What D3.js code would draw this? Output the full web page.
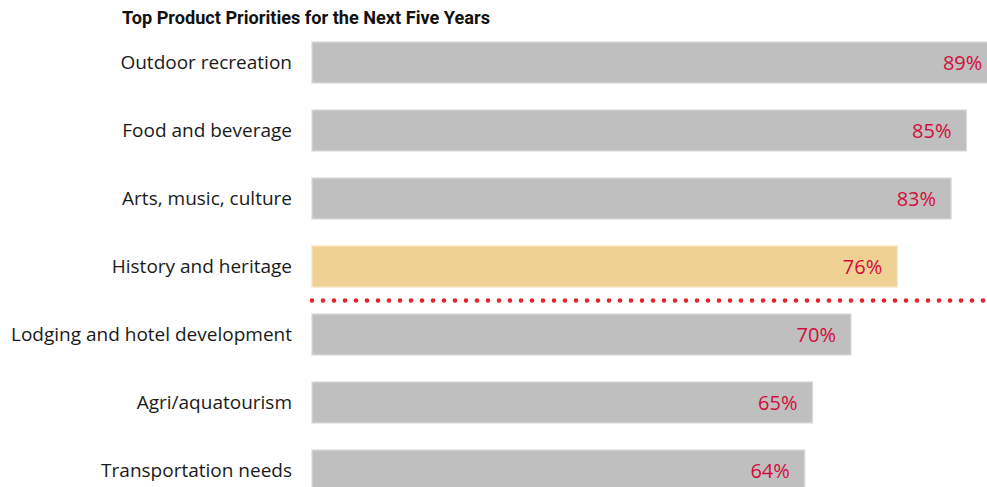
<!DOCTYPE html>
<html>
<head>
<meta charset="utf-8">
<script src="https://cdn.jsdelivr.net/npm/d3@7"></script>
<style>
  html, body { margin: 0; padding: 0; background: #fff; overflow: hidden; }
  svg { display: block; }
</style>
</head>
<body>
<svg id="chart" width="987" height="487"></svg>
<script>
// Survey results: share of respondents naming each product as a priority
const categories = [
  "Outdoor recreation",
  "Food and beverage",
  "Arts, music, culture",
  "History and heritage",
  "Lodging and hotel development",
  "Agri/aquatourism",
  "Transportation needs"
];
const values = [89, 85, 83, 76, 70, 65, 64];
const highlighted = ["History and heritage"];
const title = "Top Product Priorities for the Next Five Years";

const svg = d3.select("#chart");
const W = 987, H = 487;

const x = d3.scaleLinear().domain([0, 100]).range([312, 1082]);
const step = 68, gapRatio = 27 / 68;
const y = d3.scaleBand()
  .domain(categories)
  .range([42, 42 + step * (categories.length - gapRatio)])
  .paddingInner(gapRatio)
  .paddingOuter(0);

const data = categories.map((c, i) => ({ cat: c, val: values[i] }));

// Title
svg.append("text")
  .attr("x", 122).attr("y", 24)
  .attr("font-family", "'Liberation Sans Narrow', 'Arial Narrow', 'Roboto', sans-serif")
  .attr("font-weight", "bold")
  .attr("font-size", 18)
  .attr("textLength", 368)
  .attr("lengthAdjust", "spacingAndGlyphs")
  .attr("fill", "#111")
  .text(title);

// Bars
svg.append("g").selectAll("rect")
  .data(data)
  .join("rect")
  .attr("x", x(0))
  .attr("y", d => y(d.cat))
  .attr("width", d => x(d.val) - x(0))
  .attr("height", y.bandwidth())
  .attr("fill", d => highlighted.includes(d.cat) ? "#F0D194" : "#BFBFBF")
  .attr("stroke", d => highlighted.includes(d.cat) ? "#F7E3BC" : "#DADADA")
  .attr("stroke-width", 1.2);

// Category labels
svg.append("g").selectAll("text")
  .data(data)
  .join("text")
  .attr("x", 292)
  .attr("y", d => y(d.cat) + y.bandwidth() / 2)
  .attr("dy", "0.35em")
  .attr("text-anchor", "end")
  .attr("font-family", "'Open Sans', sans-serif")
  .attr("font-size", 19)
  .attr("fill", "#1a1a1a")
  .text(d => d.cat);

// Value labels inside bar ends
svg.append("g").selectAll("text")
  .data(data)
  .join("text")
  .attr("x", d => x(d.val) - 15)
  .attr("y", d => y(d.cat) + y.bandwidth() / 2)
  .attr("dy", "0.35em")
  .attr("text-anchor", "end")
  .attr("font-family", "'Open Sans', sans-serif")
  .attr("font-size", 20)
  .attr("fill", "#D40B3C")
  .text(d => d.val + "%");

// Dotted separator between the highlighted row and the rest
const sepY = (y(categories[3]) + y.bandwidth() + y(categories[4])) / 2;
svg.append("line")
  .attr("x1", x(0)).attr("x2", W + 5)
  .attr("y1", sepY).attr("y2", sepY)
  .attr("stroke", "#E8212B")
  .attr("stroke-width", 4.6)
  .attr("stroke-linecap", "round")
  .attr("stroke-dasharray", "0 11");
</script>
</body>
</html>
